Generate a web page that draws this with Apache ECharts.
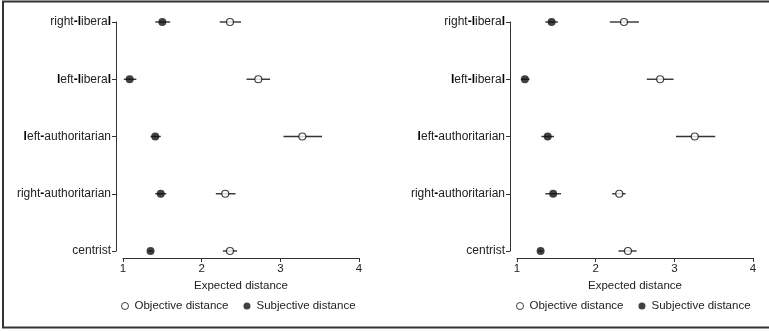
<!DOCTYPE html>
<html>
<head>
<meta charset="utf-8">
<script src="https://cdn.jsdelivr.net/npm/echarts@6/dist/echarts.min.js"></script>
<style>
html,body{margin:0;padding:0;background:#fff;}
#chart{width:769px;height:331px;}
</style>
</head>
<body>
<div id="chart"></div>
<script>
// ---- data ----
const categories = ['right-liberal', 'left-liberal', 'left-authoritarian', 'right-authoritarian', 'centrist'];
const xTicks = [1, 2, 3, 4];

// Left panel
const leftObjective   = [2.36, 2.72, 3.28, 2.30, 2.36];
const leftObjectiveLo = [2.23, 2.57, 3.04, 2.18, 2.27];
const leftObjectiveHi = [2.50, 2.87, 3.53, 2.43, 2.45];
const leftSubjective   = [1.50, 1.085, 1.41, 1.48, 1.35];
const leftSubjectiveLo = [1.41, 1.01, 1.35, 1.41, 1.32];
const leftSubjectiveHi = [1.60, 1.17, 1.48, 1.55, 1.38];

// Right panel
const rightObjective   = [2.36, 2.82, 3.26, 2.30, 2.41];
const rightObjectiveLo = [2.18, 2.65, 3.02, 2.21, 2.29];
const rightObjectiveHi = [2.55, 2.99, 3.52, 2.38, 2.52];
const rightSubjective   = [1.44, 1.10, 1.39, 1.46, 1.30];
const rightSubjectiveLo = [1.36, 1.05, 1.31, 1.36, 1.27];
const rightSubjectiveHi = [1.52, 1.16, 1.47, 1.56, 1.33];

const FONT = 'Liberation Sans, Arial, sans-serif';
const TXT = '#222';

function labelFmt(v) {
  // original rendering shows 'l' and '-' heavier
  return v.split('').map(c => (c === 'l' || c === '-') ? '{b|' + c + '}' : '{n|' + c + '}').join('');
}

function ciSeries(lo, hi, idx) {
  return {
    type: 'custom',
    xAxisIndex: idx, yAxisIndex: idx,
    silent: true,
    z: 1,
    data: lo.map((l, i) => [l, hi[i], i]),
    renderItem: function (params, api) {
      const p1 = api.coord([api.value(0), api.value(2)]);
      const p2 = api.coord([api.value(1), api.value(2)]);
      return {
        type: 'line',
        shape: {x1: p1[0], y1: p1[1], x2: p2[0], y2: p2[1]},
        style: {stroke: '#333', lineWidth: 1.4}
      };
    }
  };
}

function pointSeries(name, vals, idx, filled) {
  return {
    name: name,
    type: 'scatter',
    xAxisIndex: idx, yAxisIndex: idx,
    z: 3,
    symbol: 'circle',
    symbolSize: filled ? 8 : 7,
    itemStyle: filled ? {color: '#111'} : {color: '#fff', borderColor: '#111', borderWidth: 1.2},
    data: vals.map((v, i) => [v, i])
  };
}

function xAxis(idx) {
  return {
    type: 'value', gridIndex: idx, min: 1, max: 4, interval: 1,
    offset: 7,
    name: 'Expected distance', nameLocation: 'middle', nameGap: 18,
    nameTextStyle: {fontFamily: FONT, fontSize: 11.5, color: TXT},
    axisLine: {show: true, lineStyle: {color: '#333', width: 1}},
    axisTick: {show: true, length: 4, lineStyle: {color: '#333'}},
    axisLabel: {fontFamily: FONT, fontSize: 11.5, color: TXT, margin: 5,
      formatter: v => xTicks.includes(v) ? String(v) : ''},
    splitLine: {show: false}
  };
}

function yAxis(idx) {
  return {
    type: 'category', gridIndex: idx, data: categories, inverse: true,
    boundaryGap: false, offset: 7,
    axisLine: {show: true, lineStyle: {color: '#333', width: 1}},
    axisTick: {show: true, length: 4, alignWithLabel: true, lineStyle: {color: '#333'}},
    axisLabel: {
      fontFamily: FONT, fontSize: 12, color: TXT, margin: 5,
      formatter: labelFmt,
      rich: {
        n: {fontFamily: FONT, fontSize: 12, color: TXT},
        b: {fontFamily: FONT, fontSize: 12, color: '#000', fontWeight: 'bold'}
      }
    },
    splitLine: {show: false}
  };
}

function legend(idx, left) {
  return {
    left: left, top: 300, width: 300,
    itemWidth: 7, itemHeight: 7, itemGap: 15,
    padding: 0,
    data: [
      {name: 'Objective distance', icon: 'circle', itemStyle: {color: '#fff', borderColor: '#111', borderWidth: 1}},
      {name: 'Subjective distance', icon: 'circle', itemStyle: {color: '#111'}}
    ],
    textStyle: {fontFamily: FONT, fontSize: 11.5, color: TXT, padding: [0, 0, 0, 1]},
    selectedMode: false
  };
}

const chart = echarts.init(document.getElementById('chart'), null, {renderer: 'canvas'});
chart.setOption({
  animation: false,
  backgroundColor: '#fff',
  graphic: [{
    type: 'rect', silent: true,
    shape: {x: 3, y: 1.5, width: 770, height: 326},
    style: {fill: 'none', stroke: '#333', lineWidth: 2}
  }],
  grid: [
    {left: 123, width: 236, top: 22, height: 229},
    {left: 517, width: 236, top: 22, height: 229}
  ],
  xAxis: [xAxis(0), xAxis(1)],
  yAxis: [yAxis(0), yAxis(1)],
  legend: [legend(0, 121), legend(1, 516)],
  series: [
    ciSeries(leftObjectiveLo, leftObjectiveHi, 0),
    ciSeries(leftSubjectiveLo, leftSubjectiveHi, 0),
    pointSeries('Objective distance', leftObjective, 0, false),
    pointSeries('Subjective distance', leftSubjective, 0, true),
    ciSeries(rightObjectiveLo, rightObjectiveHi, 1),
    ciSeries(rightSubjectiveLo, rightSubjectiveHi, 1),
    pointSeries('Objective distance', rightObjective, 1, false),
    pointSeries('Subjective distance', rightSubjective, 1, true)
  ]
});
</script>
</body>
</html>
